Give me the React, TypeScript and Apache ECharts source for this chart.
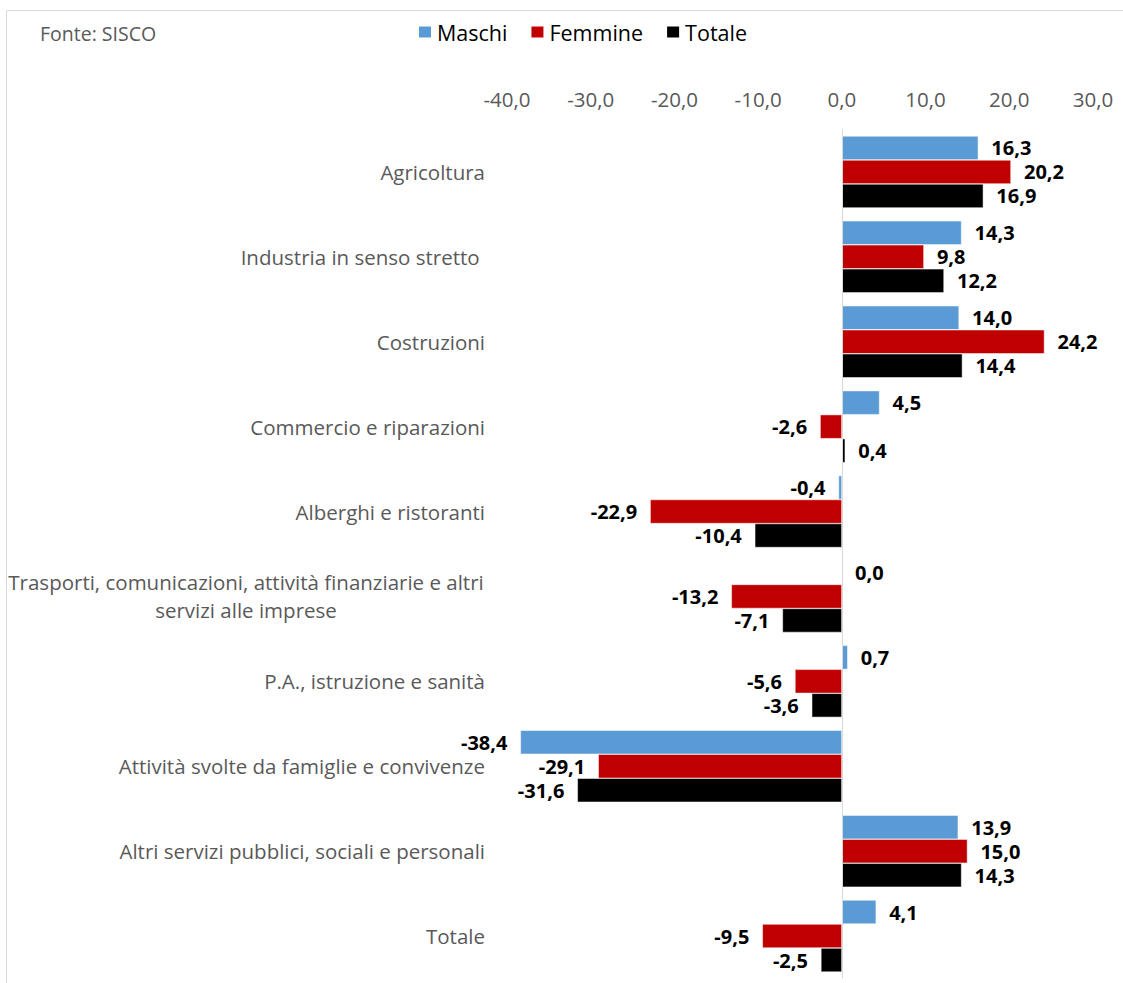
import React, { useEffect, useRef } from "react";
import * as echarts from "echarts";

const categories = [
  "Agricoltura",
  "Industria in senso stretto ",
  "Costruzioni",
  "Commercio e riparazioni",
  "Alberghi e ristoranti",
  "Trasporti, comunicazioni, attività finanziarie e altri\nservizi alle imprese",
  "P.A., istruzione e sanità",
  "Attività svolte da famiglie e convivenze",
  "Altri servizi pubblici, sociali e personali",
  "Totale",
];
const maschi = [16.3, 14.3, 14.0, 4.5, -0.4, 0.0, 0.7, -38.4, 13.9, 4.1];
const femmine = [20.2, 9.8, 24.2, -2.6, -22.9, -13.2, -5.6, -29.1, 15.0, -9.5];
const totale = [16.9, 12.2, 14.4, 0.4, -10.4, -7.1, -3.6, -31.6, 14.3, -2.5];
const seriesNames = ["Maschi", "Femmine", "Totale"];
const colors = ["#5B9BD5", "#C00000", "#000000"];
const axisMin = -40;
const axisMax = 30;
const axisStep = 10;

const FONT = "'Open Sans', sans-serif";
const fmt = (v: number) => v.toFixed(1).replace(".", ",");

export default function App() {
  const ref = useRef<HTMLDivElement>(null);
  useEffect(() => {
    if (!ref.current) return;
    const chart = echarts.init(ref.current, undefined, { renderer: "svg" });
    const allSeries = [maschi, femmine, totale];
    chart.setOption({
      animation: false,
      backgroundColor: "#ffffff",
      textStyle: { fontFamily: FONT },
      graphic: [
        {
          type: "rect",
          shape: { x: 6.5, y: 10.5, width: 1300, height: 1100 },
          style: { fill: "none", stroke: "#D9D9D9", lineWidth: 1 },
          silent: true,
        },
        {
          type: "text",
          x: 40,
          y: 33,
          style: {
            text: "Fonte: SISCO",
            fontFamily: FONT,
            fontSize: 19.5,
            fill: "#595959",
            verticalAlign: "middle",
          },
        },
      ],
      legend: {
        left: 417,
        top: 21,
        padding: 0,
        itemWidth: 14,
        itemHeight: 13,
        itemGap: 22,
        icon: "rect",
        textStyle: { fontFamily: FONT, fontSize: 21.5, color: "#000000" },
        data: seriesNames,
      },
      grid: { left: 507, right: 30, top: 129.5, bottom: 4.5, containLabel: false },
      xAxis: {
        type: "value",
        position: "top",
        min: axisMin,
        max: axisMax,
        interval: axisStep,
        axisLine: { show: false },
        axisTick: { show: false },
        splitLine: { show: false },
        axisLabel: {
          margin: 20,
          fontFamily: FONT,
          fontSize: 20.5,
          color: "#595959",
          formatter: (v: number) => fmt(v),
        },
      },
      yAxis: {
        type: "category",
        inverse: true,
        data: categories,
        axisLine: { show: false },
        axisTick: { show: false },
        axisLabel: {
          margin: 22,
          fontFamily: FONT,
          fontSize: 20.5,
          color: "#595959",
          lineHeight: 28,
          formatter: (v: string) =>
            v.includes("\n") ? v.split("\n").map((l) => `{c|${l}}`).join("\n") : v,
          rich: {
            c: {
              width: 478,
              align: "center",
              fontFamily: FONT,
              fontSize: 20.5,
              color: "#595959",
              lineHeight: 28,
            },
          },
        },
      },
      series: allSeries.map((vals, i) => ({
        name: seriesNames[i],
        type: "bar",
        barWidth: 24,
        barGap: "0%",
        itemStyle: { color: colors[i], borderColor: "#ffffff", borderWidth: 0.5 },
        label: {
          show: true,
          distance: 13,
          fontFamily: FONT,
          fontSize: 20,
          lineHeight: 20,
          fontWeight: "bold",
          color: "#000000",
          formatter: (p: any) => fmt(p.value),
        },
        data: vals.map((v) => ({
          value: v,
          label: { position: v < 0 ? "left" : "right" },
        })),
        markLine:
          i === 0
            ? {
                silent: true,
                symbol: "none",
                label: { show: false },
                lineStyle: { color: "#D9D9D9", width: 1, type: "solid" },
                data: [{ xAxis: 0 }],
              }
            : undefined,
      })),
    });
    return () => chart.dispose();
  }, []);
  return (
    <div
      ref={ref}
      style={{ position: "fixed", left: 0, top: 0, width: 1123, height: 983 }}
    />
  );
}
